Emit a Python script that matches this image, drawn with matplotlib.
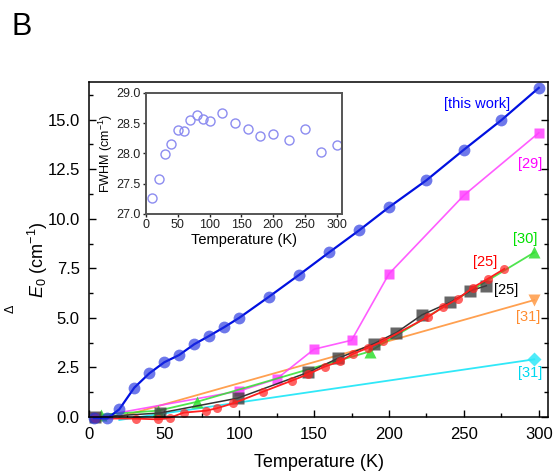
import numpy as np
import matplotlib
matplotlib.use("Agg")
import matplotlib.pyplot as plt
from matplotlib.ticker import MultipleLocator

plt.rcParams['font.family'] = ['Liberation Sans', 'DejaVu Sans']
plt.rcParams['mathtext.fontset'] = 'custom'
plt.rcParams['mathtext.rm'] = 'Liberation Sans'
plt.rcParams['mathtext.it'] = 'Liberation Sans:italic'

# energy shift vs temperature, this work
t_this = [3, 12, 20, 30, 40, 50, 60, 70, 80, 90, 100, 120, 140, 160, 180, 200, 225, 250, 275, 300]
e_this = [-0.05, -0.07, 0.39, 1.48, 2.2, 2.76, 3.13, 3.67, 4.09, 4.53, 5.0, 6.07, 7.17, 8.3, 9.41,
          10.58, 11.94, 13.48, 14.97, 16.6]

# literature values
t_29 = [4, 100, 125, 150, 175, 200, 250, 300]
e_29 = [0.0, 1.31, 1.92, 3.42, 3.87, 7.22, 11.18, 14.33]

t_30 = [8, 46, 72, 187, 297]
e_30 = [0.12, 0.32, 0.77, 3.3, 8.3]

t_25a = [4, 31, 46, 54, 63, 78, 85, 96, 116, 135, 146, 157, 167, 176, 186, 196,
         226, 236, 246, 256, 266, 277]
e_25a = [-0.07, -0.08, -0.12, -0.03, 0.22, 0.32, 0.44, 0.69, 1.28, 1.83, 2.16, 2.54, 2.8, 3.18,
         3.49, 3.83, 5.05, 5.54, 5.96, 6.53, 6.97, 7.47]

t_25b = [4, 47, 99, 146, 166, 190, 205, 222, 241, 254, 265]
e_25b = [0.0, 0.2, 0.95, 2.25, 2.96, 3.7, 4.26, 5.15, 5.79, 6.36, 6.62]

t_31a = [20, 297]
e_31a = [0.0, 5.9]

t_31b = [20, 47, 297]
e_31b = [-0.15, 0.15, 2.91]

# FWHM of the mode, this work (inset)
t_fwhm = [10, 20, 30, 40, 50, 60, 70, 80, 90, 100, 120, 140, 160, 180, 200, 225, 250, 275, 300]
fwhm = [27.26, 27.57, 27.99, 28.15, 28.39, 28.37, 28.55, 28.64, 28.57, 28.53, 28.67, 28.51,
        28.4, 28.28, 28.32, 28.23, 28.4, 28.03, 28.14]

fig = plt.figure(figsize=(5.55, 4.72), dpi=100)
ax = fig.add_axes([0.161, 0.1165, 0.826, 0.710])

ax.plot(t_31b, e_31b, '-', color='#30e8f8', lw=1.3, clip_on=False)
ax.plot(t_31b[-1:], e_31b[-1:], 'D', color='#30e8f8', ms=7, mec='none', alpha=0.85, clip_on=False)
ax.plot(t_31a, e_31a, '-', color='#ffa050', lw=1.3, clip_on=False)
ax.plot(t_31a[-1:], e_31a[-1:], 'v', color='#ffa050', ms=9, mec='none', alpha=0.9, clip_on=False)
ax.plot(t_29, e_29, '-s', color='#ff40ff', lw=1.2, ms=7, mec='none', alpha=0.85, clip_on=False)
ax.plot(t_30, e_30, '-^', color='#30e030', lw=1.3, ms=8, mec='none', alpha=0.85, clip_on=False)
ax.plot(t_25b, e_25b, '-', color='#333333', lw=1.1, clip_on=False)
ax.plot(t_25b, e_25b, 's', color='#404040', ms=8, mec='none', alpha=0.8, clip_on=False)
ax.plot(t_25a, e_25a, '-', color='#ff2020', lw=1.3, clip_on=False)
ax.plot(t_25a, e_25a, 'o', color='#ff2020', ms=6.5, mec='none', alpha=0.7, clip_on=False)
ax.plot(t_this, e_this, '-', color='#0010e0', lw=1.6, clip_on=False)
ax.plot(t_this, e_this, 'o', color='#2030e0', ms=8.5, mec='none', alpha=0.65, clip_on=False)

ax.text(258.5, 15.76, '[this work]', color='#0000ff', fontsize=10.5, ha='center', va='center')
ax.text(294.4, 12.76, '[29]', color='#ff00ff', fontsize=10.5, ha='center', va='center')
ax.text(291, 8.99, '[30]', color='#00e000', fontsize=10.5, ha='center', va='center')
ax.text(264, 7.84, '[25]', color='#ff0000', fontsize=10.5, ha='center', va='center')
ax.text(278, 6.38, '[25]', color='#000000', fontsize=10.5, ha='center', va='center')
ax.text(292.9, 5.03, '[31]', color='#ff8c30', fontsize=10.5, ha='center', va='center')
ax.text(294, 2.24, '[31]', color='#00d8f0', fontsize=10.5, ha='center', va='center')

ax.set_xlim(0, 306)
ax.set_ylim(0, 16.9)
ax.xaxis.set_major_locator(MultipleLocator(50))
ax.xaxis.set_minor_locator(MultipleLocator(25))
ax.yaxis.set_major_locator(MultipleLocator(2.5))
ax.yaxis.set_minor_locator(MultipleLocator(1.25))
ax.yaxis.set_major_formatter(plt.FuncFormatter(lambda v, p: f'{v:.1f}'))
ax.tick_params(which='both', direction='in', width=1, labelsize=12, right=True)
ax.tick_params(which='major', length=5, pad=7)
ax.tick_params(which='minor', length=3)
for s in ax.spines.values():
    s.set_linewidth(1.1)

ax.set_xlabel('Temperature (K)', fontsize=13, labelpad=9)
ax.set_ylabel(r'$E_0$ (cm$^{-1}$)', fontsize=13)
ax.yaxis.set_label_coords(-0.085, 0.47)
fig.text(0.019, 0.345, r'$\Delta$', fontsize=9, rotation=90, ha='center', va='center')

fig.text(0.021, 0.926, 'B', fontsize=22)

# inset: linewidth
ins = fig.add_axes([0.263, 0.547, 0.353, 0.256])
ins.plot(t_fwhm, fwhm, 'o', mfc='none', mec='#8c8cf0', ms=6.5, mew=1.0)
ins.set_xlim(0, 308)
ins.set_ylim(27, 29)
ins.xaxis.set_major_locator(MultipleLocator(50))
ins.yaxis.set_major_locator(MultipleLocator(0.5))
ins.yaxis.set_major_formatter(plt.FuncFormatter(lambda v, p: f'{v:.1f}'))
ins.tick_params(direction='out', length=2.5, width=1, labelsize=9, pad=1.5, colors='#222222')
for s in ins.spines.values():
    s.set_linewidth(1.4)
    s.set_color('#555555')
ins.set_xlabel('Temperature (K)', fontsize=10.5, labelpad=1.5)
ins.set_ylabel(r'FWHM (cm$^{-1}$)', fontsize=9, labelpad=1)

fig.savefig('out.png', dpi=100)
